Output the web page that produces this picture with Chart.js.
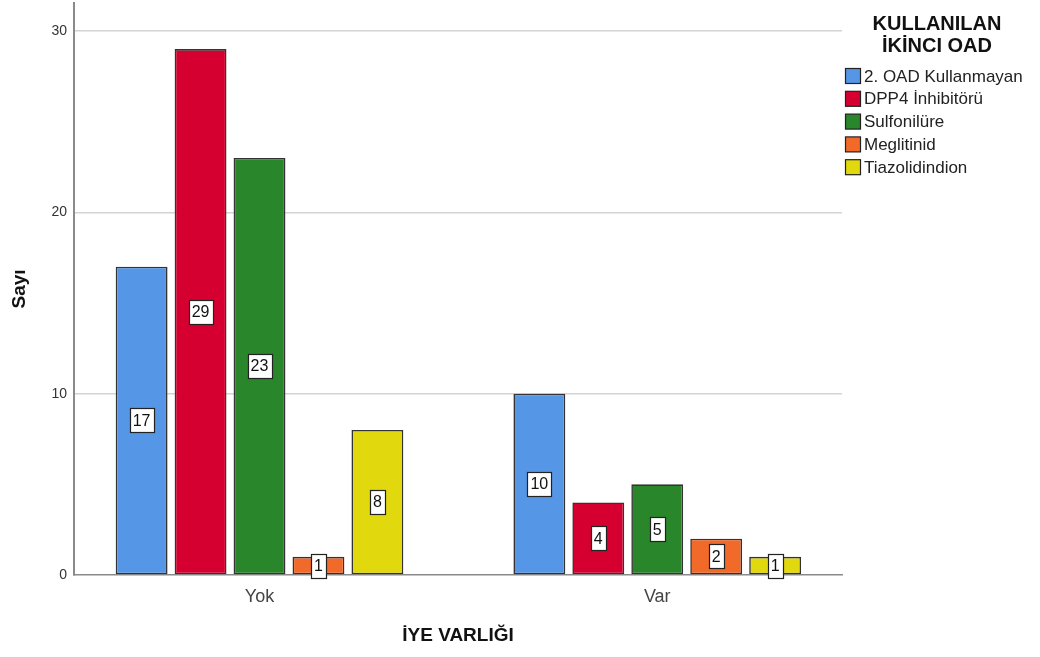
<!DOCTYPE html>
<html>
<head>
<meta charset="utf-8">
<script src="https://cdn.jsdelivr.net/npm/chart.js@4.4.1/dist/chart.umd.min.js"></script>
<style>
html,body{margin:0;padding:0;background:#fff;}
#wrap{width:1040px;height:657px;position:relative;}
</style>
</head>
<body>
<div id="wrap"><canvas id="c" width="1040" height="657"></canvas></div>
<script>
const categories = ["Yok", "Var"];
const seriesNames = ["2. OAD Kullanmayan", "DPP4 İnhibitörü", "Sulfonilüre", "Meglitinid", "Tiazolidindion"];
const seriesKullanmayan = [17, 10];
const seriesDPP4 = [29, 4];
const seriesSulfonilure = [23, 5];
const seriesMeglitinid = [1, 2];
const seriesTiazolidindion = [8, 1];
const yTickValues = [0, 10, 20, 30];
const legendTitle = ["KULLANILAN", "İKİNCI OAD"];
const xTitle = "İYE VARLIĞI";
const yTitle = "Sayı";

const seriesValues = [seriesKullanmayan, seriesDPP4, seriesSulfonilure, seriesMeglitinid, seriesTiazolidindion];
const colors = ["#5596E6", "#D5002F", "#29862A", "#F26A2A", "#E2D80E"];
const FONT = "'Liberation Sans', Arial, sans-serif";

const datasets = seriesNames.map((name, k) => ({
  label: name,
  data: categories.map((c, i) => ({x: i, y: seriesValues[k][i]})),
  backgroundColor: colors[k],
  borderColor: "#333333",
  borderWidth: 1.6,
  borderSkipped: false,
  categoryPercentage: 0.741,
  barPercentage: 0.88
}));

const labelPlugin = {
  id: 'boxLabels',
  afterDatasetsDraw(chart) {
    const ctx = chart.ctx;
    ctx.save();
    ctx.font = "16px " + FONT;
    ctx.textAlign = "center";
    ctx.textBaseline = "middle";
    chart.data.datasets.forEach((ds, di) => {
      const meta = chart.getDatasetMeta(di);
      meta.data.forEach((el, i) => {
        const p = el.getProps(['x', 'y', 'base'], true);
        const cy = (p.y + p.base) / 2;
        const txt = String(ds.data[i].y);
        const w = ctx.measureText(txt).width + 6;
        const h = 24;
        const x0 = Math.round(p.x - w / 2) + 0.5, y0 = Math.round(cy - h / 2) + 0.5;
        ctx.fillStyle = "#fff";
        ctx.fillRect(x0, y0, Math.round(w), h);
        ctx.strokeStyle = "#222";
        ctx.lineWidth = 1.2;
        ctx.strokeRect(x0, y0, Math.round(w), h);
        ctx.fillStyle = "#111";
        ctx.fillText(txt, p.x, cy + 1);
      });
    });
    ctx.restore();
  }
};

const legendPlugin = {
  id: 'sideLegend',
  afterDraw(chart) {
    const ctx = chart.ctx;
    ctx.save();
    ctx.fillStyle = "#111";
    ctx.font = "bold 20px " + FONT;
    ctx.textAlign = "center";
    ctx.textBaseline = "middle";
    legendTitle.forEach((t, i) => ctx.fillText(t, 937, 24 + i * 22));
    ctx.font = "17px " + FONT;
    ctx.textAlign = "left";
    chart.data.datasets.forEach((ds, i) => {
      const cy = 76 + i * 22.8;
      ctx.fillStyle = ds.backgroundColor;
      ctx.fillRect(845.5, cy - 7.5, 15, 15);
      ctx.strokeStyle = "#222";
      ctx.lineWidth = 1.2;
      ctx.strokeRect(845.5, cy - 7.5, 15, 15);
      ctx.fillStyle = "#222";
      ctx.fillText(ds.label, 864, cy + 1);
    });
    ctx.restore();
  }
};

new Chart(document.getElementById('c'), {
  type: 'bar',
  data: { datasets },
  options: {
    responsive: false,
    animation: false,
    layout: { padding: { top: 3, right: 198, left: 0, bottom: 0 } },
    plugins: { legend: { display: false }, tooltip: { enabled: false } },
    scales: {
      x: {
        type: 'linear',
        offset: false,
        min: -0.4664,
        max: 1.4645,
        afterBuildTicks(scale) { scale.ticks = categories.map((c, i) => ({value: i})); },
        afterFit(scale) { scale.height = 82; scale.paddingLeft = 0; scale.paddingRight = 0; },
        grid: { display: false, drawTicks: false },
        border: { color: "#8a8a8a", width: 1.5 },
        ticks: {
          padding: 11,
          color: "#444",
          font: { family: FONT, size: 18 },
          callback: (v) => categories[v] !== undefined ? categories[v] : ''
        },
        title: {
          display: true, text: xTitle, color: "#111",
          font: { family: FONT, size: 19, weight: 'bold' },
          padding: { top: 0, bottom: 10 }
        }
      },
      y: {
        min: 0,
        max: 31.54,
        afterBuildTicks(scale) { scale.ticks = yTickValues.map(v => ({value: v})); },
        afterFit(scale) { scale.width = 74; scale.paddingTop = 0; scale.paddingBottom = 0; },
        grid: {
          drawTicks: false,
          color: (c) => c.tick && c.tick.value === 0 ? 'rgba(0,0,0,0)' : '#d4d4d4',
          lineWidth: 1.5
        },
        border: { color: "#8a8a8a", width: 2 },
        ticks: {
          padding: 7,
          color: "#333",
          font: { family: FONT, size: 14 }
        },
        title: {
          display: true, text: yTitle, color: "#111",
          font: { family: FONT, size: 19, weight: 'bold' },
          padding: { top: 8, bottom: 0 }
        }
      }
    }
  },
  plugins: [labelPlugin, legendPlugin]
});
</script>
</body>
</html>
